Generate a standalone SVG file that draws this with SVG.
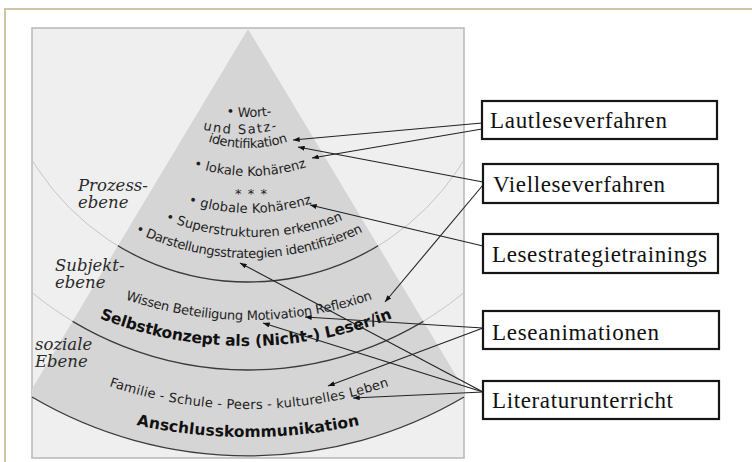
<svg xmlns="http://www.w3.org/2000/svg" width="752" height="462" viewBox="0 0 752 462">
<style>
.sm{font-family:"DejaVu Sans",Verdana,sans-serif;font-size:13px;fill:#1e1e1e}
.bd{font-family:"DejaVu Sans",Verdana,sans-serif;font-size:15.5px;font-weight:bold;fill:#111}
.lvl{font-family:"DejaVu Serif","Liberation Serif",serif;font-style:italic;font-size:16.5px;fill:#2a2a2a}
.box{fill:#fff;stroke:#161616;stroke-width:2.2}
.bt{font-family:"Liberation Serif","Times New Roman",serif;font-size:23px;fill:#111}
.ln{fill:none;stroke:#222;stroke-width:1.1;marker-end:url(#ah)}
.lt{fill:none;stroke:#c6c6c6;stroke-width:1}
.dk{fill:none;stroke:#3a3a3a;stroke-width:1.3}
</style>
<defs>
<marker id="ah" viewBox="0 0 8 6" refX="8" refY="3" markerWidth="7" markerHeight="5" orient="auto" markerUnits="userSpaceOnUse"><path d="M0,0 L8,3 L0,6 z" fill="#111"/></marker>
<clipPath id="panel"><rect x="32" y="28" width="432" height="430"/></clipPath>
<clipPath id="pyr"><path d="M248,29 L464,389 L464,397 A426,426 0 0 1 32,397 L32,389 Z"/></clipPath>
<path id="p1" d="M189,104.5 A150,150 0 0 0 309,104.5"/>
<path id="p2" d="M180,121.5 A150,150 0 0 0 300,121.5"/>
<path id="p3" d="M178,127.5 A130,130 0 0 0 318,127.5"/>
<path id="p4" d="M160,151.9 A180,180 0 0 0 340,151.9"/>
<path id="p6" d="M150,186.2 A200,200 0 0 0 350,186.2"/>
<path id="p7" d="M134,204.8 A240,240 0 0 0 374,204.8"/>
<path id="p8" d="M99,210.4 A260,260 0 0 0 399,210.4"/>
<path id="p9" d="M89,284.4 A377,377 0 0 0 409,284.4"/>
<path id="p10" d="M66,303.2 A400,400 0 0 0 426,303.2"/>
<path id="p11" d="M69,370.2 A437,437 0 0 0 429,370.2"/>
<path id="p12" d="M88,412.2 A529,529 0 0 0 408,412.2"/>
</defs>
<rect x="0" y="0" width="752" height="462" fill="#fff"/>
<path d="M5,462 L5,9 L752,9" fill="none" stroke="#cdc5a0" stroke-width="2"/>
<g id="pyramid">
<rect x="32" y="28" width="432" height="430" fill="#efefef" stroke="#b8b8b8" stroke-width="1.5"/>
<path d="M248,29 L464,389 L464,397 A426,426 0 0 1 32,397 L32,389 Z" fill="#d5d5d5"/>
<g clip-path="url(#panel)">
<circle cx="248" cy="30" r="252" class="lt"/>
<circle cx="248" cy="30" r="340" class="lt"/>
</g>
<g clip-path="url(#pyr)">
<circle cx="248" cy="30" r="252" class="dk"/>
<circle cx="248" cy="30" r="340" class="dk"/>
</g>
<path d="M32,397 A426,426 0 0 0 464,397" class="dk"/>
</g>
<g id="levels">
<text class="lvl" x="78" y="191">Prozess-</text>
<text class="lvl" x="78" y="208">ebene</text>
<text class="lvl" x="55" y="271">Subjekt-</text>
<text class="lvl" x="55" y="288">ebene</text>
<text class="lvl" x="35" y="350">soziale</text>
<text class="lvl" x="35" y="367">Ebene</text>
</g>
<g id="pyramid-texts">
<text class="sm"><textPath href="#p1" startOffset="50%" text-anchor="middle" textLength="46">• Wort-</textPath></text>
<text class="sm"><textPath href="#p2" startOffset="50%" text-anchor="middle" textLength="75">und Satz-</textPath></text>
<text class="sm"><textPath href="#p3" startOffset="50%" text-anchor="middle" textLength="81">identifikation</textPath></text>
<text class="sm"><textPath href="#p4" startOffset="50%" text-anchor="middle" textLength="115">• lokale Kohärenz</textPath></text>
<text class="sm" x="251" y="198" text-anchor="middle" font-size="11" textLength="32">* * *</text>
<text class="sm"><textPath href="#p6" startOffset="50%" text-anchor="middle" textLength="126">• globale  Kohärenz</textPath></text>
<text class="sm"><textPath href="#p7" startOffset="50%" text-anchor="middle" textLength="182">• Superstrukturen erkennen</textPath></text>
<text class="sm"><textPath href="#p8" startOffset="50%" text-anchor="middle" textLength="236">• Darstellungsstrategien identifizieren</textPath></text>
<text class="sm"><textPath href="#p9" startOffset="50%" text-anchor="middle" textLength="252">Wissen Beteiligung Motivation Reflexion</textPath></text>
<text class="bd"><textPath href="#p10" startOffset="50%" text-anchor="middle" textLength="300">Selbstkonzept als (Nicht-) Leser/in</textPath></text>
<text class="sm"><textPath href="#p11" startOffset="50%" text-anchor="middle" textLength="285">Familie - Schule - Peers - kulturelles Leben</textPath></text>
<text class="bd"><textPath href="#p12" startOffset="50%" text-anchor="middle" textLength="225">Anschlusskommunikation</textPath></text>
</g>
<g id="connectors">
<path class="ln" d="M482,123 L293,140"/>
<path class="ln" d="M482,129 L312,158"/>
<path class="ln" d="M483,182 L298,147"/>
<path class="ln" d="M483,185 L385,302"/>
<path class="ln" d="M483,246 L310,205"/>
<path class="ln" d="M483,328 L305,317"/>
<path class="ln" d="M483,328 L328,386"/>
<path class="ln" d="M483,392 L240,263"/>
<path class="ln" d="M483,392 L263,323"/>
<path class="ln" d="M483,392 L353,398"/>
</g>
<g id="node-lautlese">
<rect class="box" x="482" y="101" width="235" height="38"/>
<text class="bt" x="490" y="128" textLength="177">Lautleseverfahren</text>
</g>
<g id="node-viellese">
<rect class="box" x="483" y="164" width="235" height="39"/>
<text class="bt" x="493" y="192" textLength="172">Vielleseverfahren</text>
</g>
<g id="node-lesestrategie">
<rect class="box" x="483" y="234" width="235" height="39"/>
<text class="bt" x="492" y="262" textLength="215">Lesestrategietrainings</text>
</g>
<g id="node-leseanimation">
<rect class="box" x="483" y="311" width="236" height="38"/>
<text class="bt" x="492" y="340" textLength="167">Leseanimationen</text>
</g>
<g id="node-literatur">
<rect class="box" x="483" y="381" width="236" height="38"/>
<text class="bt" x="492" y="408" textLength="181">Literaturunterricht</text>
</g>
</svg>
